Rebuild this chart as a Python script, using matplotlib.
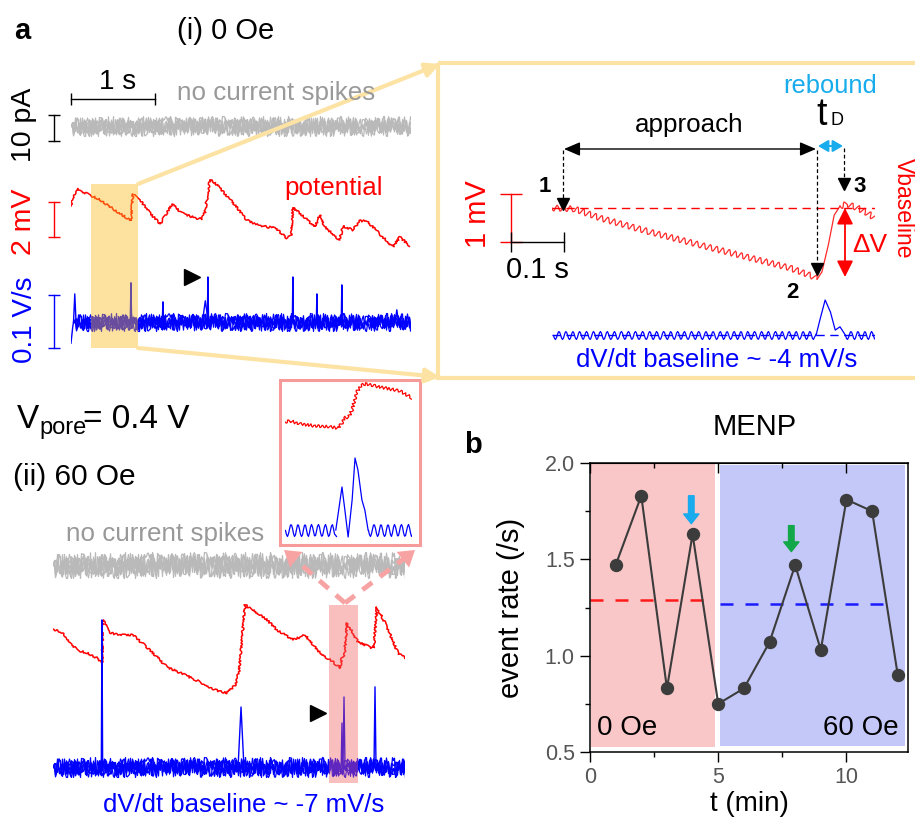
import matplotlib
matplotlib.use('Agg')
import matplotlib.pyplot as plt
from matplotlib.patches import Rectangle

plt.rcParams['font.family'] = ['Liberation Sans', 'DejaVu Sans']

W, H = 915, 822

# ---------------- data ----------------
# (i) 0 Oe : potential trace (time s, potential mV)
pot_i = [(0, 1.94), (0.012, 2.29), (0.071, 2.97), (0.143, 2.74), (0.226, 2.57),
         (0.345, 2.29), (0.524, 1.71), (0.702, 1.14), (0.714, 1.09), (0.738, 2.63),
         (0.821, 2.29), (0.94, 1.54), (1.06, 0.91), (1.107, 1.26), (1.202, 2.06),
         (1.321, 1.54), (1.476, 1.26), (1.56, 1.2), (1.595, 1.6), (1.655, 3.43),
         (1.69, 3.37), (1.774, 2.97), (1.952, 2.0), (2.095, 1.14), (2.25, 0.8),
         (2.43, 0.69), (2.571, 0.11), (2.62, 0.23), (2.643, 1.83), (2.726, 1.54),
         (2.905, 0.74), (2.964, 1.43), (3.024, 0.74), (3.143, 0.23), (3.202, 0.0),
         (3.238, 0.8), (3.357, 0.57), (3.44, 1.09), (3.524, 1.09), (3.679, 0.34),
         (3.833, -0.4), (3.917, 0.17), (4.036, -0.34)]
# (i) dV/dt spikes: (time s, height V/s, half width s)
spk_i = [(0.045, 0.053, 0.015), (0.714, 0.074, 0.008), (1.095, 0.038, 0.008),
         (1.60, 0.04, 0.035), (1.631, 0.085, 0.008), (2.643, 0.085, 0.007),
         (2.929, 0.053, 0.007), (3.226, 0.07, 0.007), (3.881, 0.023, 0.02)]
start_i = [(0.0, -0.04), (0.02, -0.01), (0.03, 0.0)]

# (ii) 60 Oe : potential trace
pot_ii = [(0, 2.91), (0.119, 2.69), (0.202, 2.17), (0.286, 1.71), (0.405, 1.54),
          (0.524, 1.26), (0.583, 0.97), (0.595, 3.43), (0.679, 2.69), (0.798, 2.57),
          (0.952, 2.57), (1.155, 1.71), (1.357, 0.74), (1.571, 0.29), (1.75, -0.11),
          (1.929, -0.57), (2.071, -0.74), (2.167, -0.29), (2.214, 0.46), (2.286, 4.29),
          (2.381, 4.0), (2.524, 3.54), (2.667, 2.86), (2.857, 2.29), (3.0, 2.57),
          (3.179, 1.54), (3.333, 1.03), (3.417, 0.69), (3.44, 1.31), (3.47, 1.4),
          (3.5, 3.26), (3.631, 2.17), (3.798, 1.83), (3.82, 1.9), (3.857, 4.17),
          (3.976, 3.03), (4.107, 1.54), (4.19, 1.26)]
spk_ii = [(0.583, 0.277, 0.008), (2.238, 0.113, 0.035), (3.44, 0.083, 0.01),
          (3.464, 0.132, 0.012), (3.833, 0.151, 0.012)]

# zoomed event (i): potential (s, mV) and dV/dt (s, mV/s)
zoom_i_v_approach = [(0, 0), (0.043, -0.02), (0.091, -0.21), (0.185, -0.5), (0.279, -0.77),
                     (0.374, -1.04), (0.449, -1.25), (0.491, -1.42), (0.5, -1.48)]
zoom_i_v_rise = [(0.5, -1.48), (0.509, -1.33), (0.521, -0.77), (0.532, -0.15),
                 (0.543, 0.04)]
zoom_i_v_after = [(0.543, 0.04), (0.557, 0.08), (0.572, 0.02), (0.591, -0.08),
                  (0.609, -0.21)]
zoom_i_d_base = [(0.002, -4), (0.498, -4)]
zoom_i_d_peak = [(0.498, -4), (0.506, 27), (0.515, 60), (0.525, 38), (0.534, 5),
                 (0.543, 11), (0.553, -4)]
zoom_i_d_post = [(0.553, -4), (0.609, -4)]

# zoomed event (ii)
zoom_ii_v = [(0, 0.35), (0.014, 0.41), (0.041, 0.24), (0.083, 0.12), (0.124, 0.06),
             (0.146, 0), (0.157, 0.29), (0.163, 0.59), (0.176, 0.65), (0.185, 1.06),
             (0.198, 2.12), (0.212, 2.53), (0.226, 2.59), (0.248, 2.47), (0.289, 2.29),
             (0.317, 2.18), (0.336, 1.94), (0.35, 1.76)]
zoom_ii_d_pre = [(0, -7), (0.14, -7)]
zoom_ii_d_peak = [(0.14, -7), (0.146, 8), (0.157, 36), (0.165, 13), (0.174, -14),
                  (0.185, 23), (0.193, 65), (0.201, 53), (0.212, 23), (0.22, 13),
                  (0.229, -7)]
zoom_ii_d_post = [(0.229, -7), (0.35, -7)]

# panel b
t_min = [1, 2, 3, 4, 5, 6, 7, 8, 9, 10, 11, 12]
rate = [1.47, 1.83, 0.83, 1.63, 0.75, 0.83, 1.07, 1.47, 1.03, 1.81, 1.75, 0.90]
mean_0oe = 1.29
mean_60oe = 1.27

C_RED = '#ff0000'
C_BLUE = '#0000ff'
C_GRAY = '#b9b9b9'
C_CYAN = '#18acec'
C_YEL = '#fde3a3'

fig = plt.figure(figsize=(W / 100, H / 100), dpi=100)

ax0 = fig.add_axes([0, 0, 1, 1], zorder=5)
ax0.set_xlim(0, W)
ax0.set_ylim(H, 0)
ax0.axis('off')


def tax(x0, x1, y0, y1, xlim, ylim):
    a = fig.add_axes([x0 / W, 1 - y1 / H, (x1 - x0) / W, (y1 - y0) / H], zorder=1)
    a.set_xlim(*xlim)
    a.set_ylim(*ylim)
    a.axis('off')
    return a


def noise(ax, t0, t1, y, color, amp, lw=0.9):
    # flat baseline rendered with matplotlib's sketch style (dense jitter band)
    for f, ln_, rnd in [(1.0, 0.5, 4), (0.85, 0.37, 5), (0.7, 0.29, 6),
                        (0.55, 0.23, 7), (0.4, 0.19, 8)]:
        ln, = ax.plot([t0, t1], [y, y], color=color, lw=lw)
        ln.set_sketch_params(scale=amp * f, length=ln_, randomness=rnd)


def trace(ax, pts, color, lw=1.0, sketch=None):
    xs, ys = zip(*pts)
    ln, = ax.plot(xs, ys, color=color, lw=lw)
    if sketch:
        ln.set_sketch_params(*sketch)
    return ln


def spikes(ax, spk, color, lw=1.0):
    for t, h, w in spk:
        ax.plot([t - w, t, t + w], [0, h, 0], color=color, lw=lw)


# ---------- (i) 0 Oe ----------
ax_ci = tax(71, 411, 100, 152, (0, 4.05), (-10, 10))
noise(ax_ci, 0, 4.05, 0, C_GRAY, 10)
ax_ci.plot([-0.202] * 2, [-5.8, 4.2], color='k', lw=1, marker='_', ms=9, clip_on=False)
ax_ci.plot([0, 1], [10.4, 10.4], color='k', lw=1, marker='|', ms=9, clip_on=False)

ax_vi = tax(71, 411, 170, 257.5, (0, 4.05), (-1, 4))
trace(ax_vi, pot_i, C_RED, 1.1, (1.0, 0.5, 4))
ax_vi.plot([-0.202] * 2, [0.17, 2.17], color=C_RED, lw=1, marker='_', ms=9, clip_on=False)

ax_di = tax(71, 411, 269, 348.5, (0, 4.05), (-0.05, 0.1))
noise(ax_di, 0.03, 4.05, 0, C_BLUE, 9)
spikes(ax_di, spk_i, C_BLUE)
trace(ax_di, start_i, C_BLUE)
ax_di.plot([-0.202] * 2, [-0.049, 0.051], color=C_BLUE, lw=1, marker='_', ms=9, clip_on=False)

ax0.add_patch(Rectangle((91, 184), 47, 164, facecolor='#f9b81a', alpha=0.42, lw=0, zorder=3))
for (x1, y1, x2, y2) in [(138, 184, 440, 64), (138, 348, 440, 377)]:
    ax0.annotate('', xy=(x2, y2), xytext=(x1, y1),
                 arrowprops=dict(arrowstyle='-|>,head_length=0.6,head_width=0.3',
                                 color=C_YEL, lw=3, shrinkA=0, shrinkB=0, mutation_scale=14))
ax0.add_patch(Rectangle((438, 63), 500, 315, fill=False, edgecolor=C_YEL, lw=3, zorder=2))

ax0.text(22, 39, 'a', fontsize=21, fontweight='bold', ha='center', va='baseline')
ax0.text(177, 39, '(i) 0 Oe', fontsize=21, va='baseline')
ax0.text(118, 89, '1 s', fontsize=20, ha='center', va='baseline')
ax0.text(177, 100, 'no current spikes', fontsize=18.7, color='#999999', va='baseline')
ax0.text(24, 125, '10 pA', fontsize=20.5, rotation=90, ha='center', va='center')
ax0.text(24, 222, '2 mV', fontsize=20.5, color=C_RED, rotation=90, ha='center', va='center')
ax0.text(25, 320, '0.1 V/s', fontsize=20, color=C_BLUE, rotation=90, ha='center', va='center')
ax0.text(284, 195, 'potential', fontsize=18.7, color=C_RED, va='baseline')
ax0.plot(192, 277, marker='>', ms=12, color='k')

# zoomed event (i)
ax_ar = tax(552, 875, 190, 289.6, (0, 0.609), (-1.7, 0.375))
trace(ax_ar, zoom_i_v_approach, '#ff2a2a', 0.9, (3, 6.5, 1.1))
trace(ax_ar, zoom_i_v_rise, '#ff2a2a', 0.9)
trace(ax_ar, zoom_i_v_after, '#ff2a2a', 0.9, (3, 6.5, 1.1))
ax_ar.plot([0, 0.609], [0, 0], color=C_RED, lw=1, ls=(0, (6, 4)))
ax_ar.plot([-0.077] * 2, [-0.71, 0.29], color=C_RED, lw=1, marker='_', ms=16, clip_on=False)
ax_ar.plot([-0.077, 0.023], [-0.71, -0.71], color='k', lw=1, marker='|', ms=14, clip_on=False)

ax_ab = tax(552, 875, 290, 345, (0, 0.609), (-22.3, 78.3))
trace(ax_ab, zoom_i_d_base, C_BLUE, 0.9, (4, 7, 1.1))
trace(ax_ab, zoom_i_d_peak, C_BLUE, 0.9)
trace(ax_ab, zoom_i_d_post, C_BLUE, 0.9, (4, 7, 1.1))
ax_ab.plot([0, 0.609], [-4, -4], color=C_BLUE, lw=1, ls=(0, (6, 4)))

ax0.annotate('', xy=(816, 149), xytext=(564, 149),
             arrowprops=dict(arrowstyle='<|-|>,head_length=0.7,head_width=0.3', color='k',
                             lw=1, shrinkA=0, shrinkB=0, mutation_scale=14))
ax0.annotate('', xy=(843, 146), xytext=(818, 146),
             arrowprops=dict(arrowstyle='<|-|>,head_length=0.6,head_width=0.35', color=C_CYAN,
                             lw=1.5, shrinkA=0, shrinkB=0, mutation_scale=10))
for x, y0, y1 in [(563, 150, 208), (817, 150, 273), (844, 148, 188)]:
    ax0.plot([x, x], [y0, y1 - 6], color='k', lw=0.9, ls=(0, (3, 2)))
    ax0.plot(x, y1 - 4, marker='v', ms=8, color='k')
ax0.annotate('', xy=(845, 277), xytext=(845, 208),
             arrowprops=dict(arrowstyle='<|-|>,head_length=0.7,head_width=0.35', color=C_RED,
                             lw=1.3, shrinkA=0, shrinkB=0, mutation_scale=14))

ax0.text(783, 93, 'rebound', fontsize=18.4, color=C_CYAN, va='baseline')
ax0.text(816, 125, 't', fontsize=27, va='baseline')
ax0.text(830, 125, 'D', fontsize=13, va='baseline')
ax0.text(635, 132, 'approach', fontsize=18.7, va='baseline')
ax0.text(545, 187, '1', fontsize=16, fontweight='bold', ha='center', va='center')
ax0.text(792, 292, '2', fontsize=16, fontweight='bold', ha='center', va='center')
ax0.text(860, 186, '3', fontsize=16, fontweight='bold', ha='center', va='center')
ax0.text(870, 245, '\u0394V', fontsize=19, color=C_RED, ha='center', va='center')
ax0.text(903, 158, 'Vbaseline', fontsize=16.5, color=C_RED, rotation=270, ha='center', va='top')
ax0.text(478, 214, '1 mV', fontsize=21, color=C_RED, rotation=90, ha='center', va='center')
ax0.text(537, 278, '0.1 s', fontsize=21, ha='center', va='baseline')
ax0.text(717, 367, 'dV/dt baseline ~ -4 mV/s', fontsize=18.5, color=C_BLUE,
         ha='center', va='baseline')

# ---------- (ii) 60 Oe ----------
ax0.text(17, 428, 'V', fontsize=24, va='baseline')
ax0.text(39, 434, 'pore', fontsize=17, va='baseline')
ax0.text(83, 428, '= 0.4 V', fontsize=24, va='baseline')
ax0.text(13, 485, '(ii) 60 Oe', fontsize=21.5, va='baseline')
ax0.text(66, 541, 'no current spikes', fontsize=18.7, color='#999999', va='baseline')
ax0.text(103, 812, 'dV/dt baseline ~ -7 mV/s', fontsize=18.5, color=C_BLUE, va='baseline')

# pink dashed connectors (under the gray noise)
for (x2, y2) in [(289, 554), (410, 554)]:
    ax0.plot([345, x2], [603, y2], color='#f8a3a3', lw=3.5, ls=(0, (2.5, 2)), zorder=0.5)
    ax0.annotate('', xy=(x2 + (-5 if x2 < 345 else 5), y2 - 4), xytext=(x2, y2),
                 arrowprops=dict(arrowstyle='-|>,head_length=0.7,head_width=0.45',
                                 color='#f8a3a3', lw=0, shrinkA=0, shrinkB=0, mutation_scale=16))

ax_cii = tax(53, 405, 540, 590, (0, 4.19), (-9.6, 9.6))
noise(ax_cii, 0, 4.19, 0, C_GRAY, 13)
ax_vii = tax(53, 405, 596, 701, (0, 4.19), (-1.2, 4.8))
trace(ax_vii, pot_ii, C_RED, 1.1, (1.0, 0.5, 4))
ax_dii = tax(53, 405, 613, 783, (0, 4.19), (-0.03, 0.29))
noise(ax_dii, 0, 4.19, 0, C_BLUE, 10)
spikes(ax_dii, spk_ii, C_BLUE)

ax0.add_patch(Rectangle((329, 605), 29, 178, facecolor='#f06161', alpha=0.4, lw=0, zorder=3))
ax0.plot(318, 713, marker='>', ms=12, color='k')

ax0.add_patch(Rectangle((280, 380), 140, 165, facecolor='white', edgecolor='#f79a9a',
                        lw=2.2, zorder=0.8))
ax_pr = tax(285, 412, 380, 440, (0, 0.35), (-0.71, 2.82))
ax_pr.set_zorder(6)
trace(ax_pr, zoom_ii_v, C_RED, 0.9, (1.5, 4, 1.5))
ax_pb = tax(285, 412, 450, 545, (0, 0.35), (-22, 73))
ax_pb.set_zorder(6)
trace(ax_pb, zoom_ii_d_pre, C_BLUE, 0.9, (6, 7, 1.15))
trace(ax_pb, zoom_ii_d_peak, C_BLUE, 0.9)
trace(ax_pb, zoom_ii_d_post, C_BLUE, 0.9, (6, 7, 1.15))

# ---------- panel b ----------
ax0.text(473, 453, 'b', fontsize=21, fontweight='bold', ha='center', va='baseline')
ax0.text(755, 435, 'MENP', fontsize=21, ha='center', va='baseline')

axb = fig.add_axes([590 / W, 1 - 752 / H, 318 / W, 289 / H], zorder=1)
axb.add_patch(Rectangle((0.05, 0.525), 4.82, 1.468, facecolor='#f9c7c8', lw=0, zorder=0))
axb.add_patch(Rectangle((5.05, 0.53), 7.25, 1.46, facecolor='#c4c8f8', lw=0, zorder=0))
axb.plot([0, 4.75], [mean_0oe] * 2, color='#ff1a1a', lw=1.8, dashes=(5.2, 4.8))
axb.plot([5.05, 11.8], [mean_60oe] * 2, color='#1a1aff', lw=1.8, dashes=(5.2, 4.8))
axb.plot(t_min, rate, '-o', color='#3c3c3c', lw=1.5, ms=8.6)
axb.annotate('', xy=(3.95, 1.685), xytext=(3.95, 1.83),
             arrowprops=dict(width=4, headwidth=11, headlength=7, color='#1aaaee', shrink=0))
axb.annotate('', xy=(7.85, 1.54), xytext=(7.85, 1.675),
             arrowprops=dict(width=4, headwidth=11, headlength=7, color='#12a84a', shrink=0))
axb.text(0.27, 0.588, '0 Oe', fontsize=20, va='baseline')
axb.text(12.03, 0.588, '60 Oe', fontsize=20, ha='right', va='baseline')

axb.set_xlim(0, 12.4)
axb.set_ylim(0.5, 2.0)
axb.set_xticks([0, 5, 10])
axb.set_xticks([2.5, 7.5], minor=True)
axb.set_yticks([0.5, 1.0, 1.5, 2.0])
axb.set_yticklabels(['0.5', '1.0', '1.5', '2.0'])
axb.set_yticks([0.75, 1.25, 1.75], minor=True)
axb.tick_params(which='major', length=7, width=1, labelsize=15.5, labelcolor='#555555',
                direction='out', pad=4)
axb.tick_params(which='minor', length=3.5, width=1, direction='out')
for s in axb.spines.values():
    s.set_linewidth(1.1)
sec = axb.secondary_xaxis('top')
sec.set_xticks([0, 5, 10])
sec.set_xticks([2.5, 7.5], minor=True)
sec.tick_params(axis='x', which='both', direction='in', labeltop=False)
sec.tick_params(which='major', length=7, width=1)
sec.tick_params(which='minor', length=3.5, width=1)
axb.set_ylabel('event rate (/s)', fontsize=21)
axb.yaxis.set_label_coords(-0.204, 0.5)
axb.set_xlabel('t (min)', fontsize=20)
axb.xaxis.set_label_coords(0.5, -0.135)

fig.savefig('out.png', dpi=100)
